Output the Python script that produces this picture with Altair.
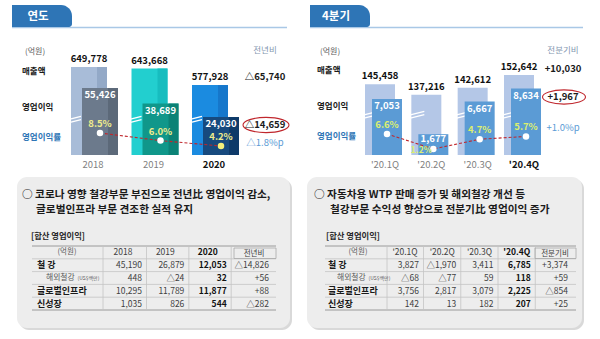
import altair as alt
import pandas as pd

FONT = "Noto Sans CJK KR"

# ---------------- data ----------------
years = ["2018", "2019", "2020"]
rev_year = [649778, 643668, 577928]
op_year = [55426, 38689, 24030]
margin_year = [8.5, 6.0, 4.2]
yoy_head = "전년비"
yoy_labels = ["△65,740", "△14,659", "△1.8%p"]

quarters = ["'20.1Q", "'20.2Q", "'20.3Q", "'20.4Q"]
rev_q = [145458, 137216, 142612, 152642]
op_q = [7053, 1677, 6667, 8634]
margin_q = [6.6, 1.2, 4.7, 5.7]
qoq_head = "전분기비"
qoq_labels = ["+10,030", "+1,967", "+1.0%p"]

metric_labels = ["매출액", "영업이익", "영업이익률"]
unit_label = "(억원)"

title_year = ["○ 코로나 영향 철강부문 부진으로 전년比 영업이익 감소,", "글로벌인프라 부문 견조한 실적 유지"]
title_q = ["○ 자동차용 WTP 판매 증가 및 해외철강 개선 등", "철강부문 수익성 향상으로 전분기比 영업이익 증가"]
table_caption = "[합산 영업이익]"

segments = ["철 강", "해외철강", "글로벌인프라", "신성장"]
seg_note = "(US$백만)"

tbl_year_cols = ["2018", "2019", "2020", "전년비"]
tbl_2018 = [45190, 448, 10295, 1035]
tbl_2019 = [26879, -24, 11789, 826]
tbl_2020 = [12053, 32, 11877, 544]
tbl_yoy = [-14826, 56, 88, -282]

tbl_q_cols = ["'20.1Q", "'20.2Q", "'20.3Q", "'20.4Q", "전분기비"]
tbl_q1 = [3827, -68, 3756, 142]
tbl_q2 = [-1970, -77, 2817, 13]
tbl_q3 = [3411, 59, 3079, 182]
tbl_q4 = [6785, 118, 2225, 207]
tbl_qoq = [3374, 59, -854, 25]


def fmt(v, signed=False):
    s = f"{abs(v):,}"
    if v < 0:
        return "△" + s
    return ("+" + s) if signed else s


one = pd.DataFrame({"k": [0]})
layers = []


def add(ch):
    layers.append(ch)


def rect(x1, x2, y1, y2, **kw):
    return alt.Chart(one).mark_rect(**kw).encode(
        x=alt.value(x1), x2=alt.value(x2), y=alt.value(y1), y2=alt.value(y2))


def label(x, y, s, size=9, color="#1a1a1a", weight="normal", align="left"):
    return alt.Chart(one).mark_text(
        text=s, font=FONT, fontSize=size, color=color, fontWeight=weight,
        align=align, baseline="middle").encode(x=alt.value(x), y=alt.value(y))


def rule(x1, x2, y1, y2, color, w=1.0):
    return alt.Chart(one).mark_rule(color=color, strokeWidth=w).encode(
        x=alt.value(x1), x2=alt.value(x2), y=alt.value(y1), y2=alt.value(y2))


BREAK = "M-1,0.05L1,-0.45M-1,0.45L1,-0.05"
ELLIPSE = "M-1,0A1,0.33 0 1,1 1,0A1,0.33 0 1,1 -1,0Z"


def ellipse(x, y, w):
    return alt.Chart(one).mark_point(
        shape=ELLIPSE, size=w * w, filled=False, color="#C0272D",
        strokeWidth=1.1, opacity=1).encode(x=alt.value(x), y=alt.value(y))


def header(x0, x1, title):
    add(rule(x0, x1, 27.5, 27.5, "#A9C8E6", 1.6))
    add(rect(x0, x0 + 60, 5, 27, color="#2E75B6", cornerRadiusTopRight=11,
             cornerRadiusBottomRight=3))
    add(label(x0 + 26, 16.5, title, size=11.5, color="white", weight="bold",
              align="center"))


def bar_panel(cats, rev, op, margin, xr, rev_dom, rev_rng, op_dom, op_rng, m_rng,
              rev_w, op_w, op_off, rev_cols, rev_strip, op_cols, op_strip,
              brk_off, brk_y, dot_cols, m_color, xlab_off, op_dy=7, alt_idx=-1):
    n = len(cats)
    df = pd.DataFrame({"cat": cats, "rev": rev, "op": op, "margin": margin,
                       "i": list(range(n))})
    df["rev_lbl"] = [fmt(v) for v in rev]
    df["op_lbl"] = [fmt(v) for v in op]
    df["m_lbl"] = [f"{m:.1f}%" for m in margin]
    base = alt.Chart(df)
    X = alt.X("cat:N", scale=alt.Scale(type="point", domain=cats, range=xr, padding=0), axis=None)
    YR = alt.Y("rev:Q", scale=alt.Scale(domain=rev_dom, range=rev_rng, zero=False, nice=False), axis=None)
    YO = alt.Y("op:Q", scale=alt.Scale(domain=op_dom, range=op_rng, zero=False, nice=False), axis=None)
    YM = alt.Y("margin:Q", scale=alt.Scale(domain=[0, 10], range=m_rng, zero=False, nice=False), axis=None)
    R0 = alt.datum(rev_dom[0])
    O0 = alt.datum(op_dom[0])

    def C(rng):
        return alt.Color("cat:N", scale=alt.Scale(domain=cats, range=rng), legend=None)

    add(base.mark_bar(width=rev_w).encode(x=X, y=YR, y2=R0, color=C(rev_cols)))
    if rev_strip:
        add(base.mark_bar(width=10, xOffset=rev_w / 2 - 5).encode(
            x=X, y=YR, y2=R0, color=C(rev_strip)))
    add(base.mark_point(shape=BREAK, size=256, filled=False, strokeWidth=1.3,
                        color="white", opacity=1, xOffset=brk_off).encode(
        x=X, y=alt.value(brk_y)))
    add(base.mark_bar(width=op_w, xOffset=op_off).encode(
        x=X, y=YO, y2=O0, color=C(op_cols)))
    if op_strip:
        add(base.mark_bar(width=10, xOffset=op_off + op_w / 2 - 5).encode(
            x=X, y=YO, y2=O0, color=C(op_strip)))
    add(base.mark_text(font=FONT, fontSize=9.5, fontWeight="bold", color="#111111",
                       dy=-8, baseline="middle").encode(x=X, y=YR, text="rev_lbl:N"))
    add(base.transform_filter(alt.datum.i != alt_idx).mark_text(
        font=FONT, fontSize=9.5, fontWeight="bold", color="white",
        dy=op_dy, xOffset=op_off, baseline="middle").encode(
        x=X, y=YO, text="op_lbl:N"))
    add(base.mark_line(color="#C0272D", strokeDash=[3, 2], strokeWidth=1.1,
                       xOffset=op_off).encode(x=X, y=YM))
    add(base.mark_circle(size=42, opacity=1, xOffset=op_off).encode(
        x=X, y=YM, color=C(dot_cols)))
    add(base.transform_filter(alt.datum.i != alt_idx).mark_text(
        font=FONT, fontSize=9.5, fontWeight="bold", color=m_color, dy=-9,
        xOffset=op_off, baseline="middle").encode(x=X, y=YM, text="m_lbl:N"))
    if alt_idx >= 0:
        add(base.transform_filter(alt.datum.i == alt_idx).mark_text(
            font=FONT, fontSize=9.5, fontWeight="bold", color="white",
            dy=5, xOffset=op_off, baseline="middle").encode(
            x=X, y=YO, text="op_lbl:N"))
        add(base.transform_filter(alt.datum.i == alt_idx).mark_text(
            font=FONT, fontSize=8.5, fontWeight="bold", color=m_color, dx=-12, dy=1,
            xOffset=op_off, baseline="middle").encode(x=X, y=YM, text="m_lbl:N"))
    add(base.transform_filter(alt.datum.i < n - 1).mark_text(
        font=FONT, fontSize=9.5, color="#7F7F7F", xOffset=xlab_off,
        baseline="middle").encode(x=X, y=alt.value(164.5), text="cat:N"))
    add(base.transform_filter(alt.datum.i == n - 1).mark_text(
        font=FONT, fontSize=9.5, fontWeight="bold", color="#111111", xOffset=xlab_off,
        baseline="middle").encode(x=X, y=alt.value(164.5), text="cat:N"))


def side_labels(x0, ys):
    add(label(x0 + 3, 52, unit_label, size=8, color="#595959"))
    add(label(x0, ys[0], metric_labels[0], size=8.5, weight="bold"))
    add(label(x0, ys[1], metric_labels[1], size=8.5, weight="bold"))
    add(label(x0, ys[2], metric_labels[2], size=8.5, weight="bold", color="#2E75B6"))


def delta_col(xc, head, labels, ys, ell_w):
    add(label(xc, 50, head, size=8.5, color="#8497B0", align="center"))
    add(label(xc, ys[0], labels[0], size=9.5, weight="bold", align="center"))
    add(label(xc, ys[1], labels[1], size=9.5, weight="bold", align="center"))
    add(label(xc, ys[2], labels[2], size=9.5, color="#5B9BD5", align="center"))
    add(ellipse(xc + 1, ys[1], ell_w))


def table_panel(bx0, bx1, title, cols, col_vals, xr, x_left, x_right, label_sep,
                hdr_dx, last_dx, bold_col, unit_x, seg_x, cap_x, t1_x, t2_x):
    add(rect(bx0 + 2, bx1 + 2, 179, 330, color="#D9D9D9", cornerRadius=10))
    add(rect(bx0, bx1, 177, 328, color="#EDEDED", cornerRadius=10))
    add(label(t1_x, 195, title[0], size=10.7, weight="bold", color="#1a1a1a"))
    add(label(t2_x, 210, title[1], size=10.7, weight="bold", color="#1a1a1a"))
    add(label(cap_x, 237, table_caption, size=8.3, weight="bold", color="#262626"))

    rows = ["hdr"] + segments
    row_scale = alt.Scale(type="band", domain=rows, range=[246, 310],
                          paddingInner=0, paddingOuter=0)
    col_scale = alt.Scale(type="point", domain=cols, range=xr, padding=0)
    Y = alt.Y("row:N", scale=row_scale, axis=None)
    X = alt.X("col:N", scale=col_scale, axis=None)

    recs = []
    for c, vals in zip(cols, col_vals):
        for s, v in zip(segments, vals):
            recs.append({"row": s, "col": c, "lbl": fmt(v, signed=(c == cols[-1])),
                         "b": int(c == bold_col)})
    tdf = pd.DataFrame(recs)
    rdf = pd.DataFrame({"row": rows})
    cdf = pd.DataFrame({"col": cols, "row": ["hdr"] * len(cols),
                        "b": [int(c == bold_col) for c in cols],
                        "last": [int(c == cols[-1]) for c in cols]})

    # grid
    add(alt.Chart(rdf).transform_filter(alt.datum.row != "hdr").mark_rule(
        color="#C4C4C4", strokeWidth=0.8).encode(
        x=alt.value(x_left), x2=alt.value(x_right),
        y=alt.Y("row:N", scale=row_scale, axis=None, bandPosition=0)))
    add(rule(x_left, x_right, 246, 246, "#9A9A9A", 1.0))
    add(rule(x_left, x_right, 310, 310, "#9A9A9A", 1.0))
    add(rule(label_sep, label_sep, 246, 310, "#C4C4C4", 0.8))
    add(alt.Chart(cdf).transform_filter(alt.datum.last == 0).mark_rule(
        color="#C4C4C4", strokeWidth=0.8, xOffset=4.5).encode(
        x=X, y=alt.value(246), y2=alt.value(310)))
    lx = xr[1] + last_dx
    add(rect(lx - 20, x_right, 248, 258.5, fillOpacity=0, stroke="#A8A8A8", strokeWidth=0.8))

    # headers
    add(alt.Chart(cdf).transform_filter((alt.datum.b == 0) & (alt.datum.last == 0)).mark_text(
        font=FONT, fontSize=8.5, color="#404040", dx=hdr_dx, baseline="middle").encode(
        x=X, y=Y, text="col:N"))
    add(alt.Chart(cdf).transform_filter(alt.datum.b == 1).mark_text(
        font=FONT, fontSize=8.5, fontWeight="bold", color="#111111", dx=hdr_dx,
        baseline="middle").encode(x=X, y=Y, text="col:N"))
    add(alt.Chart(cdf).transform_filter(alt.datum.last == 1).mark_text(
        font=FONT, fontSize=7.5, color="#404040", dx=last_dx, dy=1.5,
        baseline="middle").encode(x=X, y=Y, text="col:N"))
    add(label(unit_x, 252, unit_label, size=7.5, color="#595959", align="center"))

    # values
    add(alt.Chart(tdf).transform_filter(alt.datum.b == 0).mark_text(
        font=FONT, fontSize=8.5, color="#404040", align="right", baseline="middle").encode(
        x=X, y=Y, text="lbl:N"))
    add(alt.Chart(tdf).transform_filter(alt.datum.b == 1).mark_text(
        font=FONT, fontSize=8.5, fontWeight="bold", color="#111111", align="right",
        baseline="middle").encode(x=X, y=Y, text="lbl:N"))

    # row labels
    sdf = pd.DataFrame({"row": segments})
    add(alt.Chart(sdf).transform_filter(alt.datum.row != segments[1]).mark_text(
        font=FONT, fontSize=9, fontWeight="bold", color="#1a1a1a", align="left",
        baseline="middle").encode(x=alt.value(seg_x), y=Y, text="row:N"))
    add(alt.Chart(sdf).transform_filter(alt.datum.row == segments[1]).mark_text(
        font=FONT, fontSize=7.8, color="#595959", align="left",
        baseline="middle").encode(x=alt.value(seg_x + 9), y=Y, text="row:N"))
    add(alt.Chart(sdf).transform_filter(alt.datum.row == segments[1]).mark_text(
        text=seg_note, font=FONT, fontSize=5, color="#595959", align="left",
        baseline="middle").encode(x=alt.value(seg_x + 9 + 31.5), y=Y))


# ---------------- build ----------------
header(12, 287, "연도")
header(310, 583, "4분기")

side_labels(22, [71, 107, 137])
side_labels(317, [70, 106, 136])

bar_panel(years, rev_year, op_year, margin_year,
          xr=[89, 210], rev_dom=[300000, 650000], rev_rng=[155, 67],
          op_dom=[-17000, 55000], op_rng=[155, 88.5], m_rng=[158.7, 128.5],
          rev_w=36, op_w=36, op_off=11,
          rev_cols=["#A8BCD8", "#22CFCF", "#1B8BE0"],
          rev_strip=["#93A9C7", "#17BDBF", "#1677CB"],
          op_cols=["#6C7A8C", "#10978A", "#174A7E"],
          op_strip=["#5C6979", "#0B8276", "#0E3A69"],
          brk_off=-16, brk_y=120,
          dot_cols=["#FFFFFF", "#FFFFFF", "#F4F07C"], m_color="#EFEC8C",
          xlab_off=4)

bar_panel(quarters, rev_q, op_q, margin_q,
          xr=[380, 519], rev_dom=[90000, 150000], rev_rng=[155, 78.4],
          op_dom=[-1500, 8500], op_rng=[155, 89.5], m_rng=[152.3, 124.5],
          rev_w=30, op_w=30, op_off=7,
          rev_cols=["#B4C7E7"] * 4, rev_strip=None,
          op_cols=["#5B9BD5"] * 4, op_strip=None,
          brk_off=-10, brk_y=115,
          dot_cols=["#FFFFFF"] * 4, m_color="#DCEF6E",
          xlab_off=5, alt_idx=1)

delta_col(265, yoy_head, yoy_labels, [77, 125, 143], 46)
delta_col(563, qoq_head, qoq_labels, [69, 97, 128], 43)

table_panel(17, 290, title_year, tbl_year_cols, [tbl_2018, tbl_2019, tbl_2020, tbl_yoy],
            xr=[142, 269], x_left=32, x_right=276, label_sep=103,
            hdr_dx=-19, last_dx=-15, bold_col="2020", unit_x=67, seg_x=37,
            cap_x=31, t1_x=22, t2_x=36)

table_panel(307, 582, title_q, tbl_q_cols, [tbl_q1, tbl_q2, tbl_q3, tbl_q4, tbl_qoq],
            xr=[419, 568], x_left=325, x_right=576, label_sep=387,
            hdr_dx=-14, last_dx=-13, bold_col="'20.4Q", unit_x=358, seg_x=328,
            cap_x=326, t1_x=314, t2_x=330)

chart = alt.layer(*layers).resolve_scale(
    x="independent", y="independent", color="independent"
).properties(
    width=600, height=339, autosize=alt.AutoSizeParams(type="none"), padding=0,
    background="white"
).configure_view(strokeWidth=0)

chart.save("out.html", embed_options={"renderer": "svg", "actions": False})
